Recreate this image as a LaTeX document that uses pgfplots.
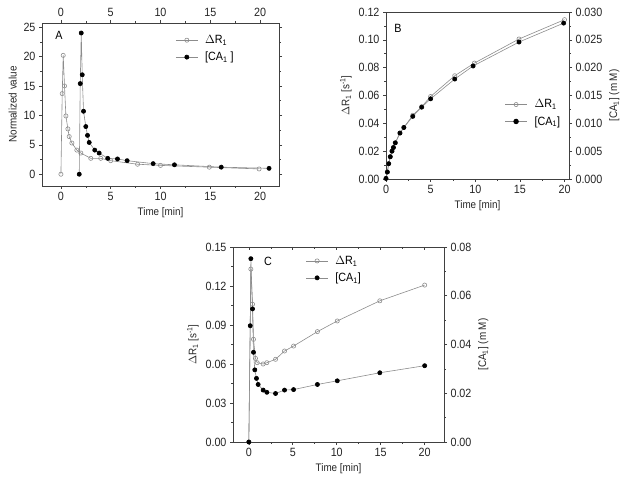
\documentclass[border=0pt]{standalone}
\usepackage{fontspec}
\setmainfont{Liberation Sans}[FakeStretch=0.9]
\usepackage{pgfplots}
\pgfplotsset{compat=1.18}
\definecolor{ax}{gray}{0.25}
\definecolor{ln}{gray}{0.55}
\pgfplotsset{
 base/.style={scale only axis, anchor=south west, axis line style={ax}, tick style={ax, line width=0.6pt},
   tick align=outside, major tick length=3bp, minor tick length=1.8bp, minor tick num=1,
   /pgf/number format/assume math mode=true,
   ticklabel style={font=\fontsize{12}{14}\selectfont, text=black!85},
   label style={font=\fontsize{11}{13}\selectfont, text=black!85},
   scaled ticks=false,
   legend style={draw=none, fill=none, font=\fontsize{12}{14}\selectfont, row sep=3bp, nodes={inner xsep=7bp}},
   legend cell align=left,
   legend image code/.code={\draw[mark repeat=2,mark phase=2,##1] plot coordinates {(0bp,0bp) (11bp,0bp) (22bp,0bp)};}},
 dr/.style={ln, line width=0.6pt, mark=o, mark size=2.1bp, mark options={draw=ln, fill=white}},
 ca/.style={ln, line width=0.6pt, mark=*, mark size=2.1bp, mark options={draw=black, fill=black}},
}
\begin{document}
\begin{tikzpicture}
\path[use as bounding box] (0,0) rectangle (621bp,483bp);
% ---------- Panel A ----------
\begin{axis}[base, at={(42bp,297bp)}, width=237bp, height=163bp,
  xmin=-1.9, xmax=21.9, ymin=-2, ymax=25.7, xtick={0,5,...,20}, ytick={0,5,...,25},
  ylabel={Normalized value}, xlabel={Time [min]},
  legend style={at={(0.55,0.95)}, anchor=north west}]
\addplot[dr] coordinates {(0,0) (0.13,13.7) (0.23,20.2) (0.36,15) (0.5,9.9) (0.7,7.7) (0.83,6.4) (1.1,5.3) (1.6,4.1) (2.0,3.6) (3.0,2.7) (4.0,2.7) (5.0,2.3) (7.7,1.7) (10,1.5) (14.9,1.2) (19.9,0.9)};
\addlegendentry{$\Delta$R\textsubscript{1}}
\addplot[ca] coordinates {(1.84,0) (1.94,15.4) (2.04,24) (2.14,16.9) (2.27,10.7) (2.5,8.1) (2.67,6.6) (2.84,5.4) (3.4,4.1) (3.84,3.6) (4.7,2.7) (5.68,2.6) (6.65,2.3) (9.26,1.8) (11.4,1.6) (16.1,1.2) (20.9,1.0)};
\addlegendentry{[CA\textsubscript{1} ]}
\end{axis}
\begin{axis}[base, at={(42bp,297bp)}, width=237bp, height=163bp,
  xmin=-1.9, xmax=21.9, ymin=-2, ymax=25.7, xtick={0,5,...,20},
  axis x line*=top, hide y axis]
\end{axis}
\node[font=\fontsize{12}{14}\selectfont] at (59bp,448bp) {A};
% ---------- Panel B ----------
\begin{axis}[base, at={(386bp,304bp)}, width=183bp, height=167bp,
  xmin=0, xmax=20.5, ymin=0, ymax=0.12, xtick={0,5,...,20}, ytick={0,0.02,...,0.121},
  xtick pos=bottom, ytick pos=left,
  yticklabel style={/pgf/number format/.cd, fixed, fixed zerofill, precision=2},
  ylabel={$\Delta$R\textsubscript{1} [s\textsuperscript{-1}]}, xlabel={Time [min]},
  legend style={at={(0.63,0.50)}, anchor=north west}]
\addplot[dr] coordinates {(0,0.0005) (0.15,0.005) (0.3,0.011) (0.48,0.016) (0.67,0.020) (0.83,0.0226) (1.04,0.026) (1.56,0.033) (2.0,0.037) (3.0,0.0458) (4.0,0.052) (5.0,0.0593) (7.7,0.0742) (9.9,0.0833) (14.9,0.1006) (20,0.1145)};
\addlegendentry{$\Delta$R\textsubscript{1}}
\addlegendimage{ca, line width=1.2pt}
\addlegendentry{[CA\textsubscript{1}]}
\end{axis}
\begin{axis}[base, at={(386bp,304bp)}, width=183bp, height=167bp,
  xmin=0, xmax=20.5, ymin=0, ymax=0.03, ytick={0,0.005,...,0.0301},
  hide x axis, axis y line*=right,
  yticklabel style={/pgf/number format/.cd, fixed, fixed zerofill, precision=3},
  ylabel={[CA\textsubscript{1}] (m M)}]
\addplot[ca] coordinates {(0,0.0001) (0.15,0.00125) (0.3,0.00275) (0.48,0.004) (0.67,0.005) (0.83,0.00565) (1.04,0.0065) (1.56,0.00825) (2.0,0.00925) (3.0,0.01125) (4.0,0.0129) (5.0,0.0144) (7.7,0.01795) (9.76,0.0203) (14.9,0.0246) (19.9,0.028)};
\end{axis}
\node[font=\fontsize{12}{14}\selectfont] at (398bp,455bp) {B};
% ---------- Panel C ----------
\begin{axis}[base, at={(233bp,41bp)}, width=211bp, height=195bp,
  xmin=-1.8, xmax=22.2, ymin=0, ymax=0.15, xtick={0,5,...,20}, ytick={0,0.03,...,0.151},
  xtick pos=bottom, ytick pos=left,
  yticklabel style={/pgf/number format/.cd, fixed, fixed zerofill, precision=2},
  ylabel={$\Delta$R\textsubscript{1} [s\textsuperscript{-1}]}, xlabel={Time [min]},
  legend style={at={(0.33,0.975)}, anchor=north west}]
\addplot[dr] coordinates {(0,0) (0.23,0.133) (0.42,0.106) (0.53,0.079) (0.76,0.0643) (0.95,0.061) (1.63,0.060) (2.05,0.061) (3.04,0.0636) (4.06,0.070) (5.09,0.0738) (7.8,0.0849) (10.06,0.0931) (14.9,0.1086) (20,0.1207)};
\addlegendentry{$\Delta$R\textsubscript{1}}
\addlegendimage{ca}
\addlegendentry{[CA\textsubscript{1}]}
\end{axis}
\begin{axis}[base, at={(233bp,41bp)}, width=211bp, height=195bp,
  xmin=-1.8, xmax=22.2, ymin=0, ymax=0.08, ytick={0,0.02,...,0.081},
  hide x axis, axis y line*=right,
  yticklabel style={/pgf/number format/.cd, fixed, fixed zerofill, precision=2},
  ylabel={[CA\textsubscript{1}] (m M)}]
\addplot[ca] coordinates {(0,0) (0.16,0.0477) (0.23,0.0752) (0.42,0.0546) (0.53,0.0368) (0.68,0.0296) (0.87,0.0261) (1.06,0.0236) (1.63,0.0213) (2.05,0.0204) (3.04,0.0199) (4.06,0.0213) (5.09,0.0215) (7.8,0.0236) (10.06,0.0251) (14.9,0.0284) (20,0.0313)};
\end{axis}
\begin{axis}[base, at={(233bp,41bp)}, width=211bp, height=195bp,
  xmin=-1.8, xmax=22.2, ymin=0, ymax=0.08, xtick={0,5,...,20}, xticklabels={},
  axis x line*=top, hide y axis, tick align=inside]
\end{axis}
\node[font=\fontsize{12}{14}\selectfont] at (268bp,222bp) {C};
\end{tikzpicture}
\end{document}
